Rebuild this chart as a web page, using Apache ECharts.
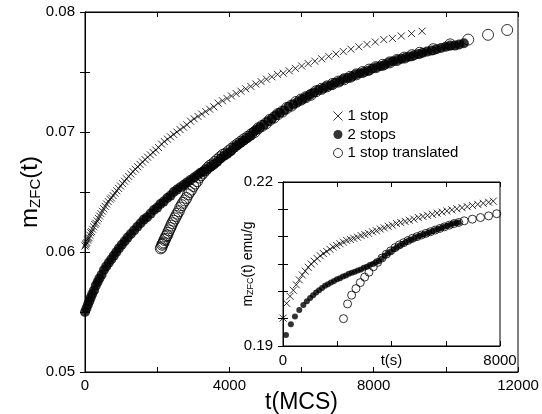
<!DOCTYPE html>
<html><head><meta charset="utf-8">
<script src="https://cdn.jsdelivr.net/npm/echarts@6/dist/echarts.min.js"></script>
<style>html,body{margin:0;padding:0;background:#fff}#c{width:542px;height:414px}</style>
</head><body><div id="c"></div>
<script>
// ---------- main panel data (t in MCS, m_ZFC) ----------
const mainOneStopT = [0,15,30,50,70,90,110,135,160,185,210,240,270,300,335,370,405,440,480,520,560,600,645,690,735,780,830,880,930,985,1040,1095,1150,1210,1270,1330,1395,1460,1525,1595,1665,1735,1810,1885,1960,2040,2120,2200,2285,2370,2455,2545,2635,2730,2825,2925,3025,3130,3235,3345,3455,3570,3690,3810,3935,4060,4190,4320,4455,4595,4735,4880,5030,5180,5335,5495,5660,5830,6005,6185,6370,6560,6755,6955,7160,7370,7590,7815,8045,8280,8520,8765,9050,9340];
const mainOneStopM = [0.0605,0.0606,0.0607,0.0608,0.0610,0.0611,0.0612,0.0614,0.0616,0.0617,0.0619,0.0621,0.0623,0.0624,0.0626,0.0628,0.0630,0.0632,0.0634,0.0636,0.0638,0.0640,0.0642,0.0644,0.0645,0.0647,0.0649,0.0651,0.0653,0.0655,0.0657,0.0659,0.0661,0.0663,0.0665,0.0667,0.0669,0.0671,0.0673,0.0675,0.0677,0.0679,0.0681,0.0683,0.0685,0.0687,0.0690,0.0692,0.0694,0.0696,0.0698,0.0700,0.0702,0.0704,0.0706,0.0709,0.0711,0.0713,0.0715,0.0717,0.0719,0.0721,0.0724,0.0726,0.0728,0.0730,0.0732,0.0734,0.0736,0.0738,0.0740,0.0742,0.0744,0.0746,0.0748,0.0749,0.0751,0.0753,0.0755,0.0757,0.0759,0.0761,0.0763,0.0765,0.0767,0.0769,0.0771,0.0773,0.0775,0.0777,0.0778,0.0780,0.0782,0.0784];

const mainTwoStopT = [0,40,80,120,160,200,250,300,350,400,460,525,590,660,730,800,870,940,1020,1100,1180,1270,1360,1450,1540,1630,1720,1820,1910,2000,2090,2180,2280,2370,2460,2550,2640,2740,2830,2920,3020,3110,3200,3290,3380,3480,3570,3660,3760,3850,3945,4040,4130,4220,4310,4400,4490,4580,4670,4760,4850,4960,5070,5180,5290,5400,5520,5640,5770,5890,6010,6120,6240,6350,6470,6590,6700,6820,6930,7050,7160,7280,7390,7510,7620,7740,7850,7970,8080,8200,8310,8430,8540,8660,8770,8890,9000,9120,9240,9360,9480,9610,9740,9870,10000,10120,10250,10370,10500];
const mainTwoStopM = [0.0550,0.0553,0.0556,0.0559,0.0562,0.0565,0.0568,0.0572,0.0575,0.0578,0.0581,0.0585,0.0588,0.0591,0.0594,0.0597,0.0600,0.0603,0.0606,0.0609,0.0612,0.0615,0.0618,0.0621,0.0624,0.0627,0.0629,0.0632,0.0635,0.0637,0.0640,0.0642,0.0645,0.0647,0.0650,0.0652,0.0654,0.0656,0.0658,0.0660,0.0662,0.0664,0.0666,0.0667,0.0669,0.0671,0.0673,0.0675,0.0678,0.0680,0.0682,0.0684,0.0687,0.0689,0.0691,0.0693,0.0695,0.0697,0.0700,0.0702,0.0704,0.0706,0.0709,0.0711,0.0714,0.0716,0.0718,0.0721,0.0723,0.0725,0.0727,0.0729,0.0731,0.0733,0.0735,0.0736,0.0738,0.0739,0.0741,0.0742,0.0744,0.0745,0.0746,0.0748,0.0749,0.0750,0.0751,0.0753,0.0754,0.0755,0.0756,0.0758,0.0759,0.0760,0.0761,0.0762,0.0763,0.0764,0.0765,0.0766,0.0767,0.0768,0.0769,0.0770,0.0771,0.0772,0.0772,0.0773,0.0774];

const mainTransT = [2100,2120,2140,2160,2180,2200,2225,2250,2275,2300,2330,2360,2390,2420,2455,2490,2525,2560,2600,2640,2680,2720,2765,2810,2855,2900,2950,3000,3050,3105,3160,3215,3275,3335,3400,3465,3530,3600,3670,3745,3820,3900,3980,4060,4145,4230,4320,4410,4505,4600,4700,4800,4905,5010,5120,5235,5350,5470,5595,5720,5850,5985,6120,6260,6405,6555,6705,6860,7020,7185,7350,7520,7695,7875,8060,8250,8445,8645,8850,9060,9275,9650,10120,10620,11170,11700];
const mainTransM = [0.0603,0.0604,0.0606,0.0607,0.0608,0.0610,0.0611,0.0613,0.0614,0.0616,0.0618,0.0620,0.0622,0.0624,0.0626,0.0628,0.0630,0.0632,0.0634,0.0637,0.0639,0.0641,0.0643,0.0645,0.0648,0.0650,0.0652,0.0655,0.0657,0.0659,0.0662,0.0664,0.0666,0.0668,0.0670,0.0672,0.0673,0.0675,0.0677,0.0679,0.0681,0.0682,0.0684,0.0686,0.0688,0.0690,0.0692,0.0694,0.0696,0.0698,0.0700,0.0703,0.0705,0.0707,0.0710,0.0712,0.0715,0.0717,0.0720,0.0722,0.0725,0.0727,0.0729,0.0731,0.0734,0.0736,0.0738,0.0740,0.0742,0.0744,0.0746,0.0748,0.0750,0.0752,0.0754,0.0756,0.0758,0.0760,0.0762,0.0764,0.0766,0.0769,0.0773,0.0777,0.0781,0.0785];

// ---------- inset data (t in s, m_ZFC in emu/g) ----------
const insetOneStopT = [0,135,260,380,490,600,710,820,930,1040,1150,1260,1375,1490,1610,1730,1850,1975,2100,2225,2350,2480,2610,2745,2880,3015,3155,3295,3440,3585,3730,3880,4030,4185,4340,4500,4660,4825,4990,5160,5330,5505,5680,5860,6040,6225,6410,6600,6790,6985,7180,7380,7580,7750];
const insetOneStopM = [0.1951,0.1978,0.1991,0.2002,0.2012,0.2021,0.2030,0.2037,0.2044,0.2050,0.2055,0.2060,0.2065,0.2069,0.2073,0.2077,0.2081,0.2084,0.2087,0.2090,0.2093,0.2095,0.2097,0.2099,0.2102,0.2104,0.2106,0.2109,0.2111,0.2114,0.2116,0.2119,0.2121,0.2124,0.2126,0.2128,0.2130,0.2132,0.2135,0.2137,0.2139,0.2141,0.2143,0.2145,0.2147,0.2149,0.2151,0.2153,0.2155,0.2157,0.2159,0.2161,0.2163,0.2165];

const insetTwoStopT = [110,290,440,600,750,880,1000,1110,1220,1330,1440,1550,1660,1770,1880,1990,2100,2210,2320,2430,2540,2650,2760,2870,2980,3090,3200,3310,3420,3530,3640,3750,3860,3970,4080,4190,4300,4410,4520,4630,4740,4850,4960,5070,5180,5290,5400,5510,5620,5730,5840,5950,6060,6170,6280,6390,6480];
const insetTwoStopM = [0.1920,0.1940,0.1954,0.1966,0.1975,0.1982,0.1988,0.1993,0.1998,0.2002,0.2006,0.2010,0.2013,0.2016,0.2019,0.2022,0.2024,0.2027,0.2029,0.2032,0.2034,0.2036,0.2038,0.2040,0.2043,0.2045,0.2048,0.2050,0.2053,0.2055,0.2060,0.2065,0.2069,0.2073,0.2077,0.2080,0.2084,0.2087,0.2090,0.2093,0.2095,0.2098,0.2100,0.2102,0.2104,0.2106,0.2108,0.2110,0.2112,0.2114,0.2116,0.2118,0.2120,0.2122,0.2124,0.2125,0.2126];

const insetTransT = [2230,2380,2530,2690,2850,3010,3170,3330,3490,3650,3810,3970,4130,4290,4450,4610,4775,4940,5105,5270,5440,5610,5780,5955,6130,6305,6480,6680,6980,7280,7580,7880];
const insetTransM = [0.1950,0.1977,0.1993,0.2005,0.2016,0.2026,0.2035,0.2045,0.2053,0.2061,0.2068,0.2074,0.2080,0.2085,0.2089,0.2093,0.2097,0.2100,0.2103,0.2106,0.2109,0.2112,0.2115,0.2118,0.2121,0.2124,0.2126,0.2129,0.2132,0.2135,0.2138,0.2142];

const seriesNames = ['1 stop', '2 stops', '1 stop translated'];
const mainXTicks = ['0', '4000', '8000', '12000'];
const insetXTicks = {0: '0', 4000: 't(s)', 8000: '8000'};

function zip(t, m) { const n = Math.min(t.length, m.length); const out = []; for (let i = 0; i < n; i++) out.push([t[i], m[i]]); return out; }

const FONT = "'Liberation Sans', Arial, Helvetica, sans-serif";
const CROSS = 'path://M0,0L10,10M10,0L0,10';
const crossStyle = { color: 'rgba(0,0,0,0)', borderColor: '#000', borderWidth: 1 };
const dotStyle = { color: '#000' };
const ringStyle = { color: 'rgba(0,0,0,0)', borderColor: '#000', borderWidth: 1 };
const axisLine = { show: true, lineStyle: { color: '#000', width: 1 } };
const tickIn = { show: true, inside: true, length: 5, lineStyle: { color: '#000', width: 1 } };

function mainYLabel(v) { const r = Math.round(v * 1000); return r % 10 === 0 ? (r / 1000).toFixed(2) : ''; }
function mainXLabel(v) { const s = String(Math.round(v)); return mainXTicks.indexOf(s) >= 0 ? s : ''; }
function insetYLabel(v) { const r = Math.round(v * 1000); return (r === 190 || r === 220) ? (r / 1000).toFixed(2) : ''; }
function insetXLabel(v) { const k = Math.round(v); return insetXTicks[k] !== undefined ? insetXTicks[k] : ''; }

const chart = echarts.init(document.getElementById('c'), null, { renderer: 'canvas' });
chart.setOption({
  animation: false,
  backgroundColor: '#fff',
  textStyle: { fontFamily: FONT },
  grid: [
    { left: 85, top: 12, width: 433, height: 360, outerBoundsMode: 'none', containLabel: false, show: true, borderColor: '#000', borderWidth: 1, backgroundColor: 'rgba(0,0,0,0)' },
    { left: 283, top: 182, width: 217, height: 164, outerBoundsMode: 'none', containLabel: false, show: true, borderColor: '#000', borderWidth: 1, backgroundColor: '#fff' }
  ],
  xAxis: [
    { gridIndex: 0, type: 'value', min: 0, max: 12000, interval: 2000, position: 'bottom',
      axisLine, axisTick: tickIn, splitLine: { show: false },
      axisLabel: { formatter: mainXLabel, fontSize: 15, color: '#000', margin: 6, fontFamily: FONT },
      name: 't(MCS)', nameLocation: 'middle', nameGap: 19, nameMoveOverlap: false,
      nameTextStyle: { fontSize: 23, color: '#000', fontFamily: FONT } },
    { gridIndex: 0, type: 'value', min: 0, max: 12000, interval: 2000, position: 'top',
      axisLine, axisTick: tickIn, splitLine: { show: false }, axisLabel: { show: false } },
    { gridIndex: 1, type: 'value', min: 0, max: 8000, interval: 2000, position: 'bottom',
      axisLine, axisTick: tickIn, splitLine: { show: false },
      axisLabel: { formatter: insetXLabel, fontSize: 15, color: '#000', margin: 7, fontFamily: FONT } },
    { gridIndex: 1, type: 'value', min: 0, max: 8000, interval: 2000, position: 'top',
      axisLine, axisTick: tickIn, splitLine: { show: false }, axisLabel: { show: false } }
  ],
  yAxis: [
    { gridIndex: 0, type: 'value', min: 0.05, max: 0.08, interval: 0.005, position: 'left',
      axisLine, axisTick: tickIn, splitLine: { show: false },
      axisLabel: { formatter: mainYLabel, fontSize: 15, color: '#000', margin: 10, fontFamily: FONT },
      name: '{m|m}{s|ZFC}{m|(t)}', nameLocation: 'middle', nameGap: 41, nameRotate: 90, nameMoveOverlap: false,
      nameTextStyle: { color: '#000', fontFamily: FONT, rich: {
        m: { fontSize: 24, color: '#000', fontFamily: FONT, lineHeight: 28 },
        s: { fontSize: 15, color: '#000', fontFamily: FONT, lineHeight: 28, padding: [11, 0, 0, 0] } } } },
    { gridIndex: 0, type: 'value', min: 0.05, max: 0.08, interval: 0.005, position: 'right',
      axisLine, axisTick: tickIn, splitLine: { show: false }, axisLabel: { show: false } },
    { gridIndex: 1, type: 'value', min: 0.19, max: 0.22, interval: 0.005, position: 'left',
      axisLine, axisTick: tickIn, splitLine: { show: false },
      axisLabel: { formatter: insetYLabel, fontSize: 15, color: '#000', margin: 10, fontFamily: FONT },
      name: '{m|m}{s|ZFC}{m|(t) emu/g}', nameLocation: 'middle', nameGap: 27, nameRotate: 90, nameMoveOverlap: false,
      nameTextStyle: { color: '#000', fontFamily: FONT, rich: {
        m: { fontSize: 14, color: '#000', fontFamily: FONT, lineHeight: 16 },
        s: { fontSize: 9, color: '#000', fontFamily: FONT, lineHeight: 16, padding: [6, 0, 0, 0] } } } },
    { gridIndex: 1, type: 'value', min: 0.19, max: 0.22, interval: 0.005, position: 'right',
      axisLine, axisTick: tickIn, splitLine: { show: false }, axisLabel: { show: false } }
  ],
  legend: {
    orient: 'vertical', left: 333, top: 108.5, padding: 0, itemWidth: 9, itemHeight: 9, itemGap: 3.5,
    textStyle: { fontSize: 15, color: '#000', fontFamily: FONT, lineHeight: 15 },
    data: [
      { name: seriesNames[0], icon: CROSS, itemStyle: crossStyle },
      { name: seriesNames[1], icon: 'circle', itemStyle: dotStyle },
      { name: seriesNames[2], icon: 'circle', itemStyle: ringStyle }
    ]
  },
  series: [
    { name: seriesNames[0], type: 'scatter', xAxisIndex: 0, yAxisIndex: 0, symbol: CROSS, symbolSize: 7, itemStyle: crossStyle, data: zip(mainOneStopT, mainOneStopM) },
    { name: seriesNames[1], type: 'scatter', xAxisIndex: 0, yAxisIndex: 0, symbol: 'circle', symbolSize: 10, itemStyle: dotStyle, data: zip(mainTwoStopT, mainTwoStopM) },
    { name: seriesNames[2], type: 'scatter', xAxisIndex: 0, yAxisIndex: 0, symbol: 'circle', symbolSize: 11, itemStyle: ringStyle, data: zip(mainTransT, mainTransM) },
    { name: seriesNames[0], type: 'scatter', xAxisIndex: 2, yAxisIndex: 2, symbol: CROSS, symbolSize: 7, itemStyle: crossStyle, data: zip(insetOneStopT, insetOneStopM) },
    { name: seriesNames[1], type: 'scatter', xAxisIndex: 2, yAxisIndex: 2, symbol: 'circle', symbolSize: 6, itemStyle: dotStyle, data: zip(insetTwoStopT, insetTwoStopM) },
    { name: seriesNames[2], type: 'scatter', xAxisIndex: 2, yAxisIndex: 2, symbol: 'circle', symbolSize: 8, itemStyle: ringStyle, data: zip(insetTransT, insetTransM) }
  ]
});
</script></body></html>
